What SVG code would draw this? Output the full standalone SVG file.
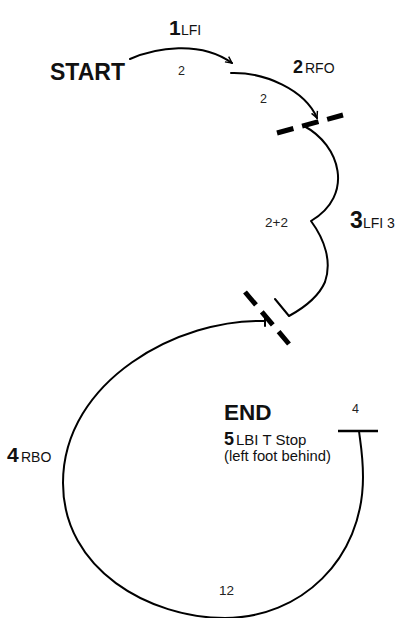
<svg xmlns="http://www.w3.org/2000/svg" width="396" height="618" viewBox="0 0 396 618">
<style>
text{font-family:"Liberation Sans",Arial,sans-serif;fill:#111}
.big{font-weight:bold}
.sub{font-size:14px;font-weight:normal}
.num{font-size:12.5px;fill:#222}
.c{fill:none;stroke:#000;stroke-width:2;stroke-linecap:round;stroke-linejoin:round}
.dash{fill:none;stroke:#000;stroke-width:5;stroke-dasharray:17 9}
</style>
<defs>
<marker id="arr" viewBox="0 0 10 10" refX="9" refY="5" markerWidth="8" markerHeight="8" markerUnits="userSpaceOnUse" orient="auto">
<path d="M1,1 L9,5 L1,9" fill="none" stroke="#000" stroke-width="1.8"/>
</marker>
</defs>
<rect width="396" height="618" fill="#fff"/>
<g id="connectors">
<path class="c" d="M130,59 C155,48 200,40 232,63" marker-end="url(#arr)"/>
<path class="c" d="M231,73 C265,72 305,90 317,118" marker-end="url(#arr)"/>
<path class="c" d="M304,126 C340,145 355,195 311,221 C325,240 332,262 325,282 C318,298 300,310 289,316 L275,299"/>
<path class="c" d="M265,321 C180,318 63,380 63,483 C63,570 150,618 225,618 C300,618 363,560 363,477 C363,455 360,440 359,431"/>
<line class="c" x1="265" y1="316" x2="265" y2="326"/>
<line x1="338" y1="431" x2="378" y2="431" stroke="#000" stroke-width="2.5"/>
<line class="dash" x1="277" y1="133" x2="343" y2="115"/>
<line class="dash" x1="245" y1="292" x2="289" y2="344"/>
</g>
<g id="start"><text class="big" x="50" y="80" style="font-size:23px">START</text></g>
<g id="step1"><text class="big" x="169" y="35" style="font-size:21px">1<tspan class="sub" x="181">LFI</tspan></text></g>
<g id="count1"><text class="num" x="178" y="75">2</text></g>
<g id="step2"><text class="big" x="293" y="73" style="font-size:18px">2<tspan class="sub" x="305">RFO</tspan></text></g>
<g id="count2"><text class="num" x="260" y="103">2</text></g>
<g id="count3"><text class="num" x="265" y="227" style="font-size:13.5px">2+2</text></g>
<g id="step3"><text class="big" x="350" y="228" style="font-size:23px">3<tspan class="sub" x="363">LFI 3</tspan></text></g>
<g id="step4"><text class="big" x="7" y="462" style="font-size:21px">4<tspan class="sub" x="21">RBO</tspan></text></g>
<g id="count4"><text class="num" x="219" y="595" style="font-size:13.5px">12</text></g>
<g id="end">
<text class="big" x="224" y="420" style="font-size:22.5px">END</text>
<text class="big" x="224" y="445" style="font-size:18px">5<tspan class="sub" x="236" style="font-size:15px">LBI T Stop</tspan></text>
<text x="224" y="461" style="font-size:14.8px">(left foot behind)</text>
</g>
<g id="count5"><text class="num" x="352" y="413">4</text></g>
</svg>
